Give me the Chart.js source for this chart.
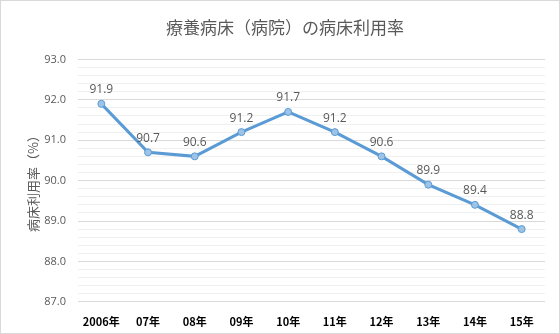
<!DOCTYPE html>
<html>
<head>
<meta charset="utf-8">
<script src="https://cdn.jsdelivr.net/npm/chart.js@4"></script>
<style>
  html, body { margin: 0; padding: 0; background: #fff; }
  #wrap { position: relative; width: 558px; height: 332px; border: 1px solid #d9d9d9; }
</style>
</head>
<body>
<div id="wrap"><canvas id="chart" width="558" height="332"></canvas></div>
<script>
// chart data
const years = ['2006年', '07年', '08年', '09年', '10年', '11年', '12年', '13年', '14年', '15年'];
const bedRate = [91.9, 90.7, 90.6, 91.2, 91.7, 91.2, 90.6, 89.9, 89.4, 88.8];
const yMin = 87;
const yMax = 93;

const jpFont = "'Noto Sans CJK JP', 'Noto Sans', sans-serif";
const gray = '#595959';

// value labels above each point
const pointLabels = {
  id: 'pointLabels',
  afterDatasetsDraw(chart) {
    const ctx = chart.ctx;
    const meta = chart.getDatasetMeta(0);
    ctx.save();
    ctx.font = "12px 'Segoe UI', 'Open Sans', sans-serif";
    ctx.fillStyle = gray;
    ctx.textAlign = 'center';
    ctx.textBaseline = 'bottom';
    meta.data.forEach((pt, i) => {
      ctx.fillText(bedRate[i].toFixed(1), pt.x, pt.y - 8);
    });
    ctx.restore();
  }
};

new Chart(document.getElementById('chart'), {
  type: 'line',
  data: {
    labels: years,
    datasets: [{
      data: bedRate,
      borderColor: '#5b9bd5',
      borderWidth: 3,
      backgroundColor: '#9dc3e6',
      pointBackgroundColor: '#9dc3e6',
      pointBorderColor: '#5b9bd5',
      pointBorderWidth: 1,
      pointRadius: 3.5,
      tension: 0
    }]
  },
  options: {
    responsive: false,
    animation: false,
    layout: { padding: { left: 24, right: 14, top: 0, bottom: 0 } },
    plugins: {
      legend: { display: false },
      tooltip: { enabled: false },
      title: {
        display: true,
        text: '療養病床（病院）の病床利用率',
        color: gray,
        font: { family: jpFont, size: 17, weight: 'normal' },
        padding: { top: 16, bottom: 22 }
      }
    },
    scales: {
      x: {
        offset: true,
        grid: { display: false },
        border: { display: false },
        ticks: {
          color: '#000',
          font: { family: jpFont, size: 11, weight: 'bold' },
          maxRotation: 0,
          padding: 5
        }
      },
      y: {
        min: yMin,
        max: yMax,
        border: { display: false },
        afterFit(scale) { scale.width = 53; },
        ticks: {
          stepSize: 0.2,
          autoSkip: false,
          color: gray,
          font: { family: "'Segoe UI', 'Open Sans', sans-serif", size: 11 },
          padding: 12,
          callback(v) {
            const r = Math.round(v * 10) / 10;
            return Number.isInteger(r) ? r.toFixed(1) : '';
          }
        },
        grid: {
          drawTicks: false,
          color(c) {
            const r = Math.round(c.tick.value * 10) / 10;
            return Number.isInteger(r) ? '#d9d9d9' : '#f0f0f0';
          }
        },
        title: {
          display: true,
          text: '病床利用率（%）',
          color: gray,
          font: { family: jpFont, size: 13 },
          padding: { top: 0, bottom: 0 }
        }
      }
    }
  },
  plugins: [pointLabels]
});
</script>
</body>
</html>
